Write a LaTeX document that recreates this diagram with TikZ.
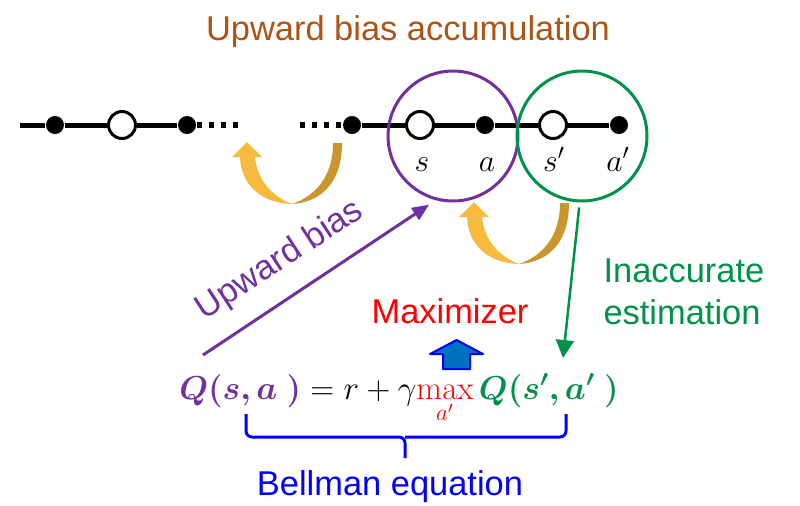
\RequirePackage{fix-cm}
\documentclass[tikz,border=0pt]{standalone}
\usepackage[no-math]{fontspec}
\setmainfont{Liberation Sans}
\usepackage{amsmath,bm}
\usetikzlibrary{arrows.meta}

\definecolor{biasbrown}{RGB}{172,84,22}
\definecolor{curpurple}{RGB}{112,48,160}
\definecolor{nextgreen}{RGB}{0,146,72}
\definecolor{loopgold}{RGB}{246,186,62}
\definecolor{loopdark}{RGB}{202,150,44}
\definecolor{maxblue}{RGB}{0,112,192}

\tikzset{
  fulldot/.style={circle,fill=black,inner sep=0pt,minimum size=.36cm},
  hollow/.style={circle,draw=black,fill=white,line width=.06cm,inner sep=0pt,minimum size=.54cm},
  ring/.style={circle,draw=#1,line width=.06cm,inner sep=0pt,minimum size=2.6cm},
  chainline/.style={line width=.1cm},
  gapline/.style={line width=.13cm,dash pattern=on .1cm off .14cm},
  lbl/.style={anchor=base,inner sep=0pt,font=\fontsize{18}{20}\selectfont},
  bigtext/.style={inner sep=0pt,font=\fontsize{19.6}{23.8}\selectfont},
  eqbrace/.style={draw=blue,line width=.06cm,rounded corners=.12cm},
}

\newcommand{\biasloop}[1]{%
  \begin{scope}[shift={#1}]
    \fill[loopdark] (342,143) .. controls (342,182) and (322,202) .. (292,204)
      .. controls (315,196) and (333,177) .. (333,143) -- cycle;
    \fill[loopgold] (292,204) .. controls (260,203) and (241,184) .. (240,157)
      -- (232,157) -- (247,142) -- (262,157) -- (255,157)
      .. controls (257,179) and (271,196) .. (292,204) -- cycle;
  \end{scope}}

\begin{document}
\begin{tikzpicture}[x=.02cm,y=-.02cm,line width=.6pt]
  \useasboundingbox (0,0) rectangle (800,505);

  \node[bigtext,text=biasbrown,anchor=base] (accum) at (408,40) {Upward bias accumulation};

  \coordinate (lstart) at (20,125);
  \coordinate (gapl) at (238,125);
  \coordinate (gapr) at (300,125);
  \node[fulldot] (d1) at (55,125) {};
  \node[hollow] (o1) at (122,125) {};
  \node[fulldot] (d2) at (187,125) {};
  \node[fulldot] (d3) at (352,125) {};
  \node[hollow] (s) at (420,125) {};
  \node[fulldot] (a) at (485,125) {};
  \node[hollow] (sn) at (553,125) {};
  \node[fulldot] (an) at (619,125) {};
  \draw[chainline] (lstart) -- (d1) -- (o1) -- (d2);
  \draw[gapline] (d2) -- (gapl);
  \draw[gapline] (gapr) -- (d3);
  \draw[chainline] (d3) -- (s) -- (a) -- (sn) -- (an);

  \node[lbl] (ls) at (422,171) {$s$};
  \node[lbl] (la) at (487,171) {$a$};
  \node[lbl] (lsn) at (554,171) {$s'$};
  \node[lbl] (lan) at (618,171) {$a'$};

  \node[ring=curpurple] (cur) at (453,136) {};
  \node[ring=nextgreen] (nxt) at (582,136) {};

  \biasloop{(0,0)}
  \biasloop{(227,60)}

  \node[anchor=base,inner sep=0pt,font=\fontsize{18.9}{22}\selectfont] (bellmaneq) at (399,399)
    {${\color{curpurple}\bm{Q(s,a\;)}} = r+\gamma{\color{red}\max\limits_{a'}}\,{\color{nextgreen}\bm{Q(s',a'\;)}}$};

  \coordinate (ubtail) at (203,355);
  \draw[curpurple,line width=.06cm,-{Triangle[length=.34cm,width=.28cm]},shorten >=.16cm] (ubtail) -- (cur.255);
  \node[bigtext,text=curpurple,anchor=base,rotate=33.1] (ubias) at (285,268) {Upward bias};

  \coordinate (estip) at (563,358);
  \draw[nextgreen,line width=.05cm,-{Triangle[length=.36cm,width=.36cm]},shorten <=.1cm] (nxt.268) -- (estip);
  \node[bigtext,text=nextgreen,align=left,anchor=west] (inacc) at (603,291.6) {Inaccurate\\estimation};

  \node[bigtext,text=red,anchor=base] (maxlbl) at (450,323) {Maximizer};
  \filldraw[fill=maxblue,draw=blue,line width=.04cm,line join=round]
    (430,354) -- (456.5,340) -- (483,354) -- (470,354) -- (470,369) -- (443,369) -- (443,354) -- cycle;

  \coordinate (brl) at (246,414);
  \coordinate (brr) at (566,414);
  \coordinate (brm) at (405,437);
  \coordinate (brtip) at (405,458);
  \draw[eqbrace] (brl) |- (brm) -- (brtip);
  \draw[eqbrace] (brr) |- (brm);
  \node[bigtext,text=blue,anchor=base] (bellman) at (390,495) {Bellman equation};
\end{tikzpicture}
\end{document}
